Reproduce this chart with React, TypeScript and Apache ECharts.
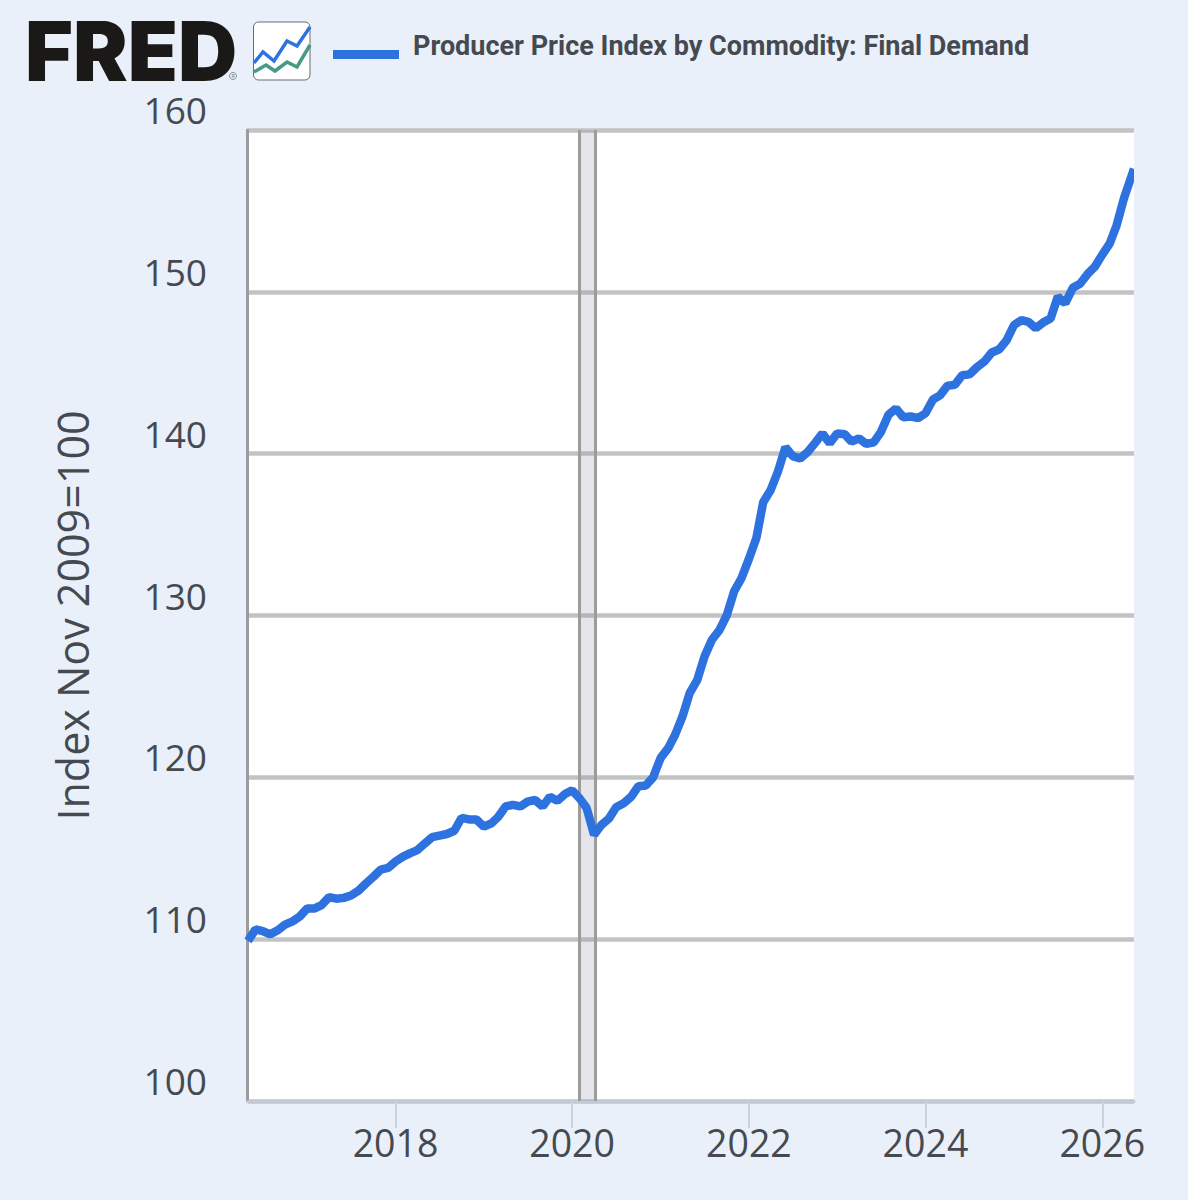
import React, { useEffect, useRef } from "react";
import * as echarts from "echarts";

const seriesName = "Producer Price Index by Commodity: Final Demand";
const yAxisName = "Index Nov 2009=100";
const firstYear = 2016;
const firstMonth = 5;
const axisEnd = "2026-05-12";
const recession = ["2020-02-01", "2020-04-04"];
const yearTicks = ["2018-01-01", "2020-01-01", "2022-01-01", "2024-01-01", "2026-01-01"];
const values = [
  109.9, 110.6, 110.5, 110.3, 110.55, 110.9, 111.1, 111.4, 111.9, 111.9, 112.1, 112.6,
  112.5, 112.55, 112.7, 113.0, 113.45, 113.85, 114.3, 114.4, 114.8, 115.1, 115.3, 115.5,
  115.9, 116.3, 116.4, 116.5, 116.7, 117.5, 117.4, 117.4, 116.95, 117.15, 117.55, 118.2,
  118.3, 118.2, 118.5, 118.6, 118.2, 118.8, 118.55, 118.95, 119.2, 118.7, 118.1, 116.45,
  117.05, 117.45, 118.15, 118.4, 118.8, 119.45, 119.5, 120.0, 121.2, 121.8, 122.6, 123.75,
  125.2, 126.0, 127.45, 128.5, 129.1, 130.0, 131.5, 132.3, 133.5, 134.8, 137.0, 137.75,
  138.9, 140.4, 139.85, 139.7, 140.1, 140.65, 141.25, 140.65, 141.25, 141.2, 140.75, 140.95,
  140.6, 140.7, 141.35, 142.4, 142.8, 142.25, 142.3, 142.2, 142.5, 143.35, 143.6, 144.2,
  144.25, 144.85, 144.9, 145.35, 145.7, 146.25, 146.45, 147.0, 147.95, 148.25, 148.15, 147.75,
  148.1, 148.35, 149.7, 149.3, 150.25, 150.5, 151.1, 151.55, 152.3, 153.0, 154.1, 155.8, 157.6,
];

const ts = (d: string) => Date.UTC(+d.slice(0, 4), +d.slice(5, 7) - 1, +d.slice(8, 10));
const monthDate = (i: number) => {
  const m = firstMonth - 1 + i;
  const y = firstYear + Math.floor(m / 12);
  return `${y}-${String((m % 12) + 1).padStart(2, "0")}-01`;
};
const points = values.map((v, i) => [ts(i === values.length - 1 ? axisEnd : monthDate(i)), v]);

const BG = "#eaf0f9";
const TEXT = "#454a50";
const BLUE = "#2e72e0";
const TICK_FONT = "Open Sans";

export default function App() {
  const ref = useRef<HTMLDivElement>(null);
  useEffect(() => {
    document.body.style.margin = "0";
    document.body.style.background = BG;
    const chart = echarts.init(ref.current!, null, { renderer: "svg" });
    const tickValues = yearTicks.map(ts);
    chart.setOption({
      animation: false,
      backgroundColor: BG,
      grid: { left: 248, right: 54, top: 130, bottom: 99, show: true, backgroundColor: "#fff", borderWidth: 0 },
      legend: {
        left: 328,
        top: 27,
        icon: "rect",
        itemWidth: 66,
        itemHeight: 9,
        itemGap: 15,
        data: [seriesName],
        formatter: "{a|{name}}",
        textStyle: {
          rich: {
            a: { fontFamily: "Roboto", fontWeight: 700, fontSize: 27, color: TEXT, padding: [0, 0, 18, 9] },
          },
        },
      },
      xAxis: {
        type: "value",
        min: ts(monthDate(0)),
        max: ts(axisEnd),
        splitLine: { show: false },
        axisLine: { show: true, onZero: false, lineStyle: { color: "#c3cad4", width: 3 } },
        axisTick: { show: true, customValues: tickValues, length: 27, lineStyle: { color: "#c8d3e0", width: 2 } },
        axisLabel: {
          show: true,
          customValues: tickValues,
          margin: 22,
          fontFamily: TICK_FONT,
          fontSize: 37.5,
          color: TEXT,
          hideOverlap: false,
          formatter: (v: number) => String(new Date(v).getUTCFullYear()),
        },
      },
      yAxis: {
        type: "value",
        min: 100,
        max: 160,
        interval: 10,
        offset: 1,
        name: yAxisName,
        nameLocation: "middle",
        nameRotate: 90,
        nameGap: 153,
        nameTextStyle: { fontFamily: TICK_FONT, fontSize: 43, color: TEXT },
        axisLine: { show: true, lineStyle: { color: "#9c9c9c", width: 3 } },
        axisTick: { show: false },
        splitLine: { show: true, lineStyle: { color: "#c3c3c3", width: 4.5 } },
        axisLabel: {
          margin: 40,
          fontFamily: TICK_FONT,
          fontSize: 37,
          color: TEXT,
          verticalAlign: "bottom",
          lineHeight: 41,
        },
      },
      series: [
        {
          name: seriesName,
          type: "line",
          z: 10,
          data: points,
          showSymbol: false,
          symbol: "none",
          lineStyle: { color: BLUE, width: 8.5, cap: "butt", join: "bevel" },
          itemStyle: { color: BLUE },
          markArea: {
            silent: true,
            z: 3,
            itemStyle: { color: "rgba(120,130,155,0.2)" },
            data: [[{ xAxis: ts(recession[0]) }, { xAxis: ts(recession[1]) }]],
          },
          markLine: {
            silent: true,
            z: 4,
            symbol: "none",
            label: { show: false },
            lineStyle: { color: "#9c9c9c", width: 3, type: "solid" },
            data: [{ xAxis: ts(recession[0]) }, { xAxis: ts(recession[1]) }],
          },
        },
      ],
      graphic: [
        // covers the half line width that ECharts lets the line overrun the plot's right edge
        { type: "rect", z: 100, shape: { x: 1134, y: 150, width: 10, height: 40 }, style: { fill: BG } },
        {
          type: "text",
          x: 25,
          y: 51,
          style: {
            text: "FRED",
            fontFamily: "Inter",
            fontWeight: 900,
            fontSize: 82,
            lineHeight: 44,
            verticalAlign: "middle",
            fill: "#1b1918",
          },
        },
        { type: "circle", shape: { cx: 233, cy: 76, r: 3.5 }, style: { fill: "none", stroke: "#777", lineWidth: 0.8 } },
        { type: "text", x: 231.4, y: 73.2, style: { text: "R", fontFamily: "Inter", fontSize: 5, fill: "#777" } },
        {
          type: "rect",
          shape: { x: 253.5, y: 22, width: 56.5, height: 58, r: 5 },
          style: { fill: "#fff", stroke: "#6b6b6b", lineWidth: 1 },
        },
        {
          type: "polyline",
          shape: { points: [[254, 63], [263, 52], [274, 61], [287, 41], [297, 46], [310, 27]] },
          style: { fill: "none", stroke: "#2e72e0", lineWidth: 3.5 },
        },
        {
          type: "polyline",
          shape: { points: [[254, 72], [266, 65], [275, 71], [287, 62], [297, 67], [310, 45]] },
          style: { fill: "none", stroke: "#479a85", lineWidth: 3.5 },
        },
      ],
    });
    return () => chart.dispose();
  }, []);
  return <div ref={ref} style={{ width: 1188, height: 1200 }} />;
}
